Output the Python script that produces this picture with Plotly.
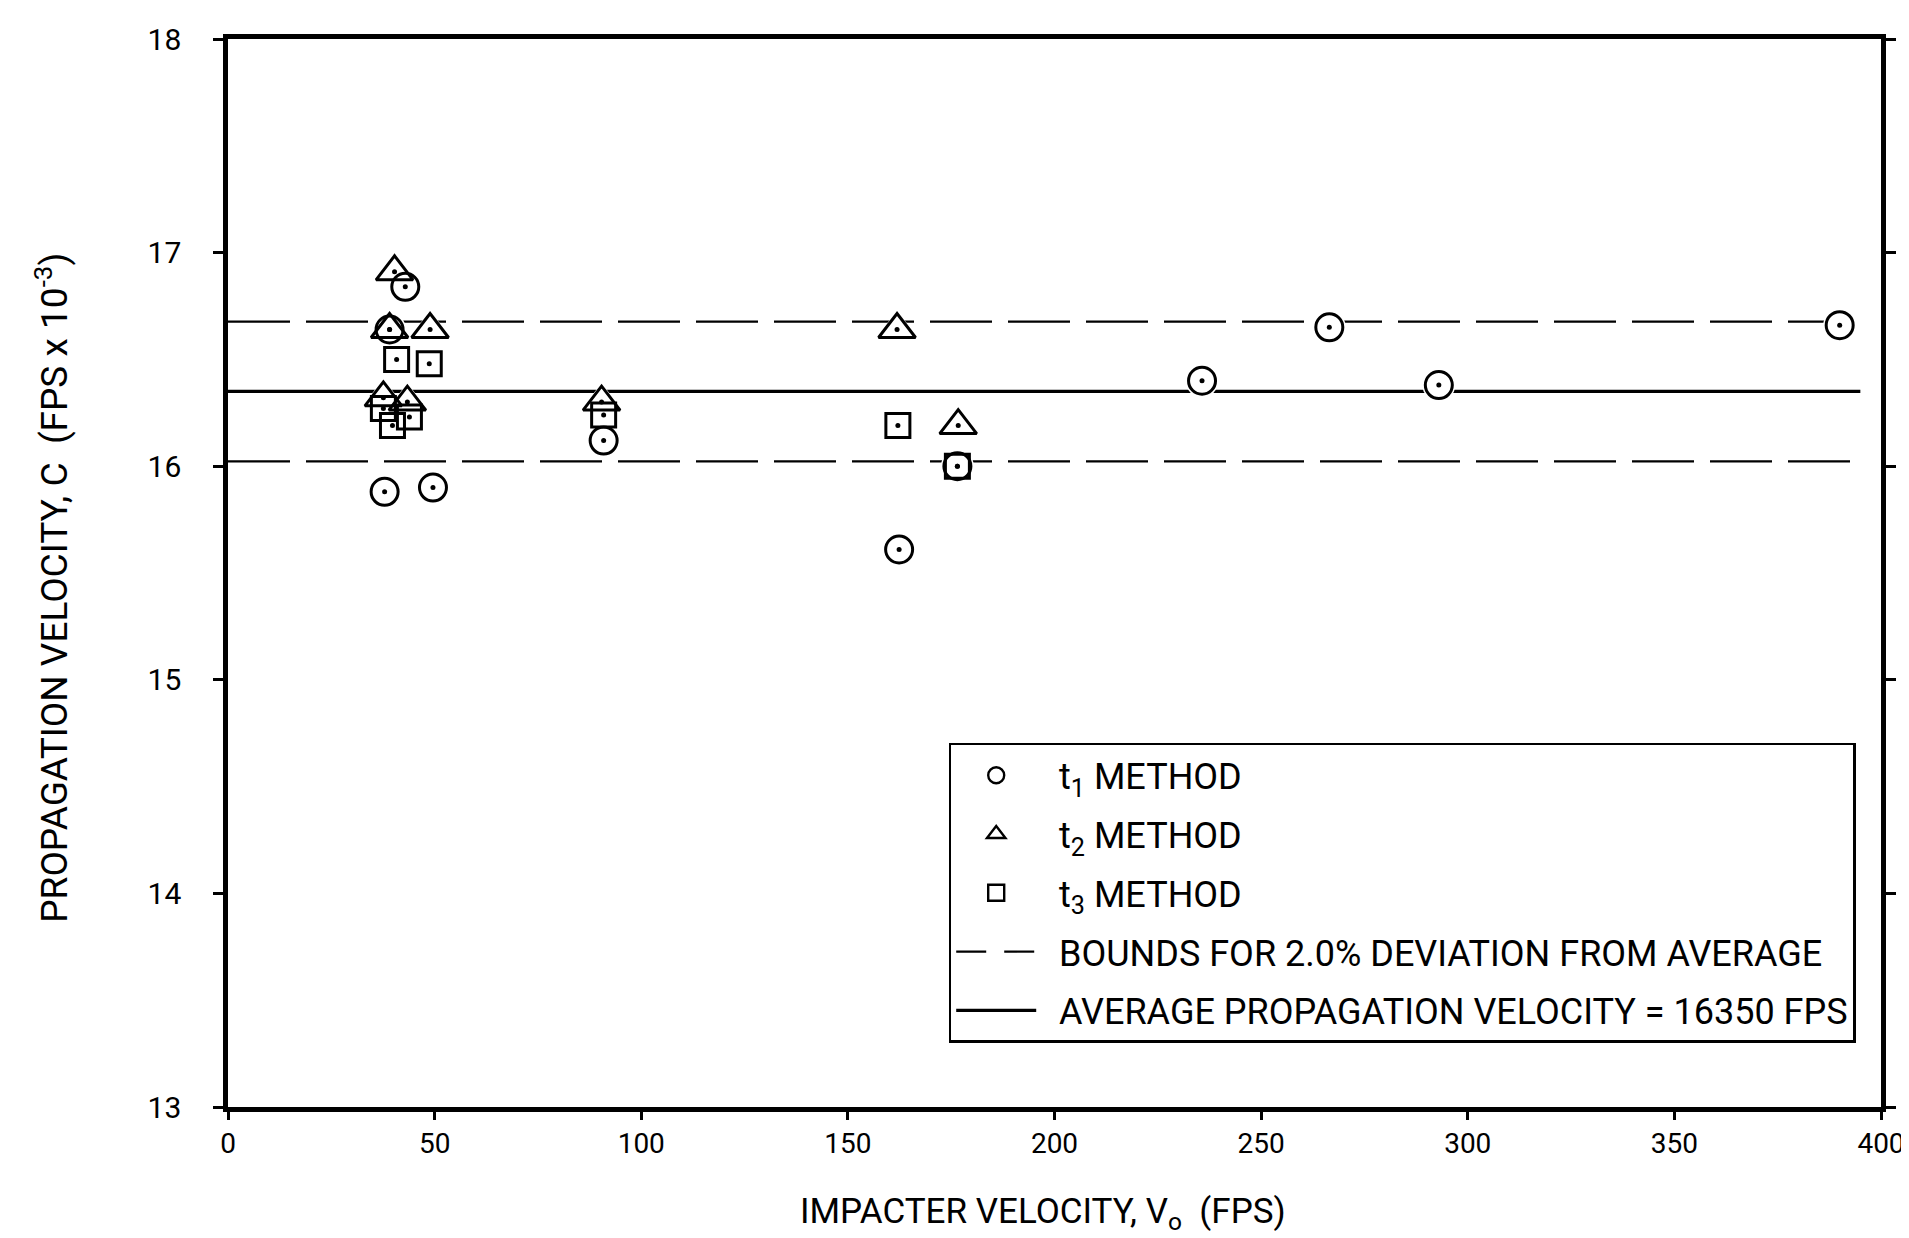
import plotly.graph_objects as go

# ---- data ----
t1_x = [42.9, 39.1, 37.9, 49.6, 90.9, 162.4, 176.5, 235.7, 266.5, 293.0, 390.0]
t1_y = [16.84, 16.64, 15.88, 15.90, 16.12, 15.61, 16.00, 16.40, 16.65, 16.38, 16.66]

t2_x = [40.3, 39.1, 48.9, 37.6, 43.4, 90.4, 161.9, 176.7]
t2_y = [16.91, 16.64, 16.64, 16.32, 16.30, 16.30, 16.64, 16.19]

t3_x = [40.8, 48.7, 37.6, 43.9, 39.8, 90.9, 162.1, 176.5]
t3_y = [16.50, 16.48, 16.27, 16.23, 16.19, 16.24, 16.19, 16.00]

avg_velocity = 16350.0            # FPS
deviation = 0.02                  # 2.0 %
line_x = [0, 395]

x_ticks = [0, 50, 100, 150, 200, 250, 300, 350, 400]
y_ticks = [13, 14, 15, 16, 17, 18]

FONT = "Roboto, sans-serif"
PAD = "\u00a0\u00a0"

avg_k = avg_velocity / 1000.0
upper_k = avg_k * (1 + deviation)
lower_k = avg_k * (1 - deviation)

fig = go.Figure()

# reference lines
for yv in (upper_k, lower_k):
    fig.add_trace(go.Scatter(x=line_x, y=[yv, yv], mode="lines",
                             line=dict(color="black", width=2.2, dash="62px,16px"),
                             showlegend=False, hoverinfo="skip"))
fig.add_trace(go.Scatter(x=line_x, y=[avg_k, avg_k], mode="lines",
                         line=dict(color="black", width=3.2),
                         showlegend=False, hoverinfo="skip"))

series = [
    (t1_x, t1_y, "circle", 27),
    (t2_x, t2_y, "triangle-up", 32),
    (t3_x, t3_y, "square", 24),
]

# white halos (break the lines around markers)
for xs, ys, sym, sz in series:
    fig.add_trace(go.Scatter(x=xs, y=ys, mode="markers",
                             marker=dict(symbol=sym, size=sz + 6, color="white",
                                         line=dict(width=0)),
                             showlegend=False, hoverinfo="skip"))
# outlined markers
for xs, ys, sym, sz in series:
    fig.add_trace(go.Scatter(x=xs, y=ys, mode="markers",
                             marker=dict(symbol=sym + "-open", size=sz, color="black",
                                         line=dict(color="black", width=3)),
                             showlegend=False))
# centre dots
for xs, ys, sym, sz in series:
    fig.add_trace(go.Scatter(x=xs, y=ys, mode="markers",
                             marker=dict(symbol="circle", size=5, color="black",
                                         line=dict(width=0)),
                             showlegend=False, hoverinfo="skip"))

# legend-only entries
legend_entries = [
    dict(name=PAD + "t<sub>1</sub> METHOD", mode="markers",
         marker=dict(symbol="circle-open", size=16, color="black", line=dict(width=2.4))),
    dict(name=PAD + "t<sub>2</sub> METHOD", mode="markers",
         marker=dict(symbol="triangle-up-open", size=16, color="black", line=dict(width=2.4))),
    dict(name=PAD + "t<sub>3</sub> METHOD", mode="markers",
         marker=dict(symbol="square-open", size=16, color="black", line=dict(width=2.4))),
    dict(name=PAD + "BOUNDS FOR 2.0% DEVIATION FROM AVERAGE", mode="lines",
         line=dict(color="black", width=2.2, dash="30px,18px")),
    dict(name=PAD + "AVERAGE PROPAGATION VELOCITY = 16350 FPS", mode="lines",
         line=dict(color="black", width=3.2)),
]
for i, e in enumerate(legend_entries):
    fig.add_trace(go.Scatter(x=[None], y=[None], legendgroup=f"g{i}", **e))

fig.update_layout(
    width=1909, height=1238,
    margin=dict(l=220, r=21, t=31, b=139),
    paper_bgcolor="white", plot_bgcolor="white",
    font=dict(family=FONT, size=30, color="black"),
    showlegend=True,
    legend=dict(x=0.436, y=0.341, xanchor="left", yanchor="top",
                bordercolor="black", borderwidth=2.5, bgcolor="white",
                font=dict(family=FONT, size=36, color="black"),
                itemwidth=80, traceorder="grouped", tracegroupgap=9,
                itemclick=False),
    xaxis=dict(range=[0, 400], tickvals=x_ticks, ticktext=[str(v) for v in x_ticks],
               showgrid=False, zeroline=False, showline=True, linecolor="black",
               linewidth=4.5, mirror=True, ticks="outside", ticklen=8, tickwidth=2.5,
               tickcolor="black", ticklabelstandoff=0,
               tickfont=dict(family=FONT, size=28)),
    yaxis=dict(range=[13, 18], tickvals=y_ticks, ticktext=[str(v) for v in y_ticks],
               showgrid=False, zeroline=False, showline=True, linecolor="black",
               linewidth=4.5, mirror="ticks", ticks="outside", ticklen=10, tickwidth=2.5,
               tickcolor="black", ticklabelstandoff=26,
               tickfont=dict(family=FONT, size=30)),
    annotations=[
        dict(text="IMPACTER VELOCITY, V<sub>o</sub>\u00a0\u00a0(FPS)",
             xref="paper", yref="paper", x=0.493, y=-0.100,
             xanchor="center", yanchor="middle", showarrow=False,
             font=dict(family=FONT, size=35)),
        dict(text="PROPAGATION VELOCITY, C\u00a0\u00a0(FPS x 10<sup>-3</sup>)",
             xref="paper", yref="paper", x=-0.106, y=0.486, textangle=-90,
             xanchor="center", yanchor="middle", showarrow=False,
             font=dict(family=FONT, size=37)),
    ],
)

fig.write_html("out.html")
